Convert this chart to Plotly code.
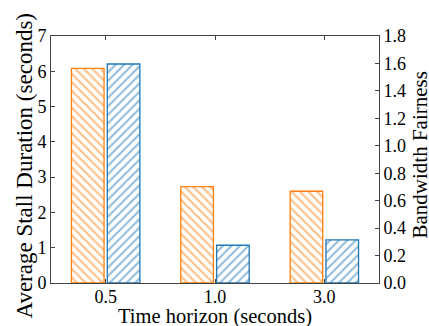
import plotly.graph_objects as go

categories = ["0.5", "1.0", "3.0"]
stall_duration = [6.08, 2.73, 2.60]
bandwidth_fairness = [1.596, 0.275, 0.315]
left_ticks = [0, 1, 2, 3, 4, 5, 6, 7]
right_ticks = [0.0, 0.2, 0.4, 0.6, 0.8, 1.0, 1.2, 1.4, 1.6, 1.8]
x_title = "Time horizon (seconds)"
y_title = "Average Stall Duration (seconds)"
y2_title = "Bandwidth Fairness"

ORANGE = "#ff7f0e"
BLUE = "#1f77b4"
FONT = "Liberation Serif"
AXC = "#444444"

fig = go.Figure()
fig.add_trace(go.Bar(
    x=categories, y=stall_duration, yaxis="y", offsetgroup="a",
    marker=dict(color="white", line=dict(color=ORANGE, width=1.3),
                pattern=dict(shape="\\", fgcolor=ORANGE, bgcolor="white", size=6, solidity=0.35)),
    showlegend=False,
))
fig.add_trace(go.Bar(
    x=categories, y=bandwidth_fairness, yaxis="y2", offsetgroup="b",
    marker=dict(color="white", line=dict(color=BLUE, width=1.3),
                pattern=dict(shape="/", fgcolor=BLUE, bgcolor="white", size=6, solidity=0.35)),
    showlegend=False,
))

fig.update_layout(
    width=429, height=326,
    margin=dict(l=51, r=50, t=36, b=43),
    paper_bgcolor="white", plot_bgcolor="white",
    barmode="group", bargap=0.345, bargroupgap=0.09,
    font=dict(family=FONT, color="black", size=18),
    xaxis=dict(
        type="category", range=[-0.5, 2.5], automargin=False,
        showline=True, linecolor=AXC, linewidth=1, mirror="ticks",
        ticks="inside", ticklen=4, tickcolor=AXC, ticklabelstandoff=-3,
        tickfont=dict(size=18),
        showgrid=False, zeroline=False,
    ),
    yaxis=dict(
        range=[0, 7], tickvals=left_ticks, automargin=False,
        showline=True, linecolor=AXC, linewidth=1,
        ticks="inside", ticklen=4, tickcolor=AXC,
        tickfont=dict(size=18),
        showgrid=False, zeroline=False,
    ),
    yaxis2=dict(
        range=[0, 1.8], tickvals=right_ticks, tickformat=".1f", automargin=False,
        overlaying="y", side="right",
        showline=True, linecolor=AXC, linewidth=1,
        ticks="inside", ticklen=4, tickcolor=AXC,
        tickfont=dict(size=18),
        showgrid=False, zeroline=False,
    ),
    annotations=[
        dict(text=x_title, xref="paper", yref="paper", x=0.5, y=0,
             xanchor="center", yanchor="middle", yshift=-33, showarrow=False,
             font=dict(size=20.5)),
        dict(text=y_title, xref="paper", yref="paper", x=0, y=0.5, textangle=-90,
             xanchor="center", yanchor="middle", xshift=-27, yshift=-6, showarrow=False,
             font=dict(size=23)),
        dict(text=y2_title, xref="paper", yref="paper", x=1, y=0.5, textangle=-90,
             xanchor="center", yanchor="middle", xshift=40, yshift=4, showarrow=False,
             font=dict(size=21)),
    ],
)

fig.write_html("out.html", config={"displayModeBar": False},
               post_script="document.body.style.margin='0';document.body.style.overflow='hidden';")
